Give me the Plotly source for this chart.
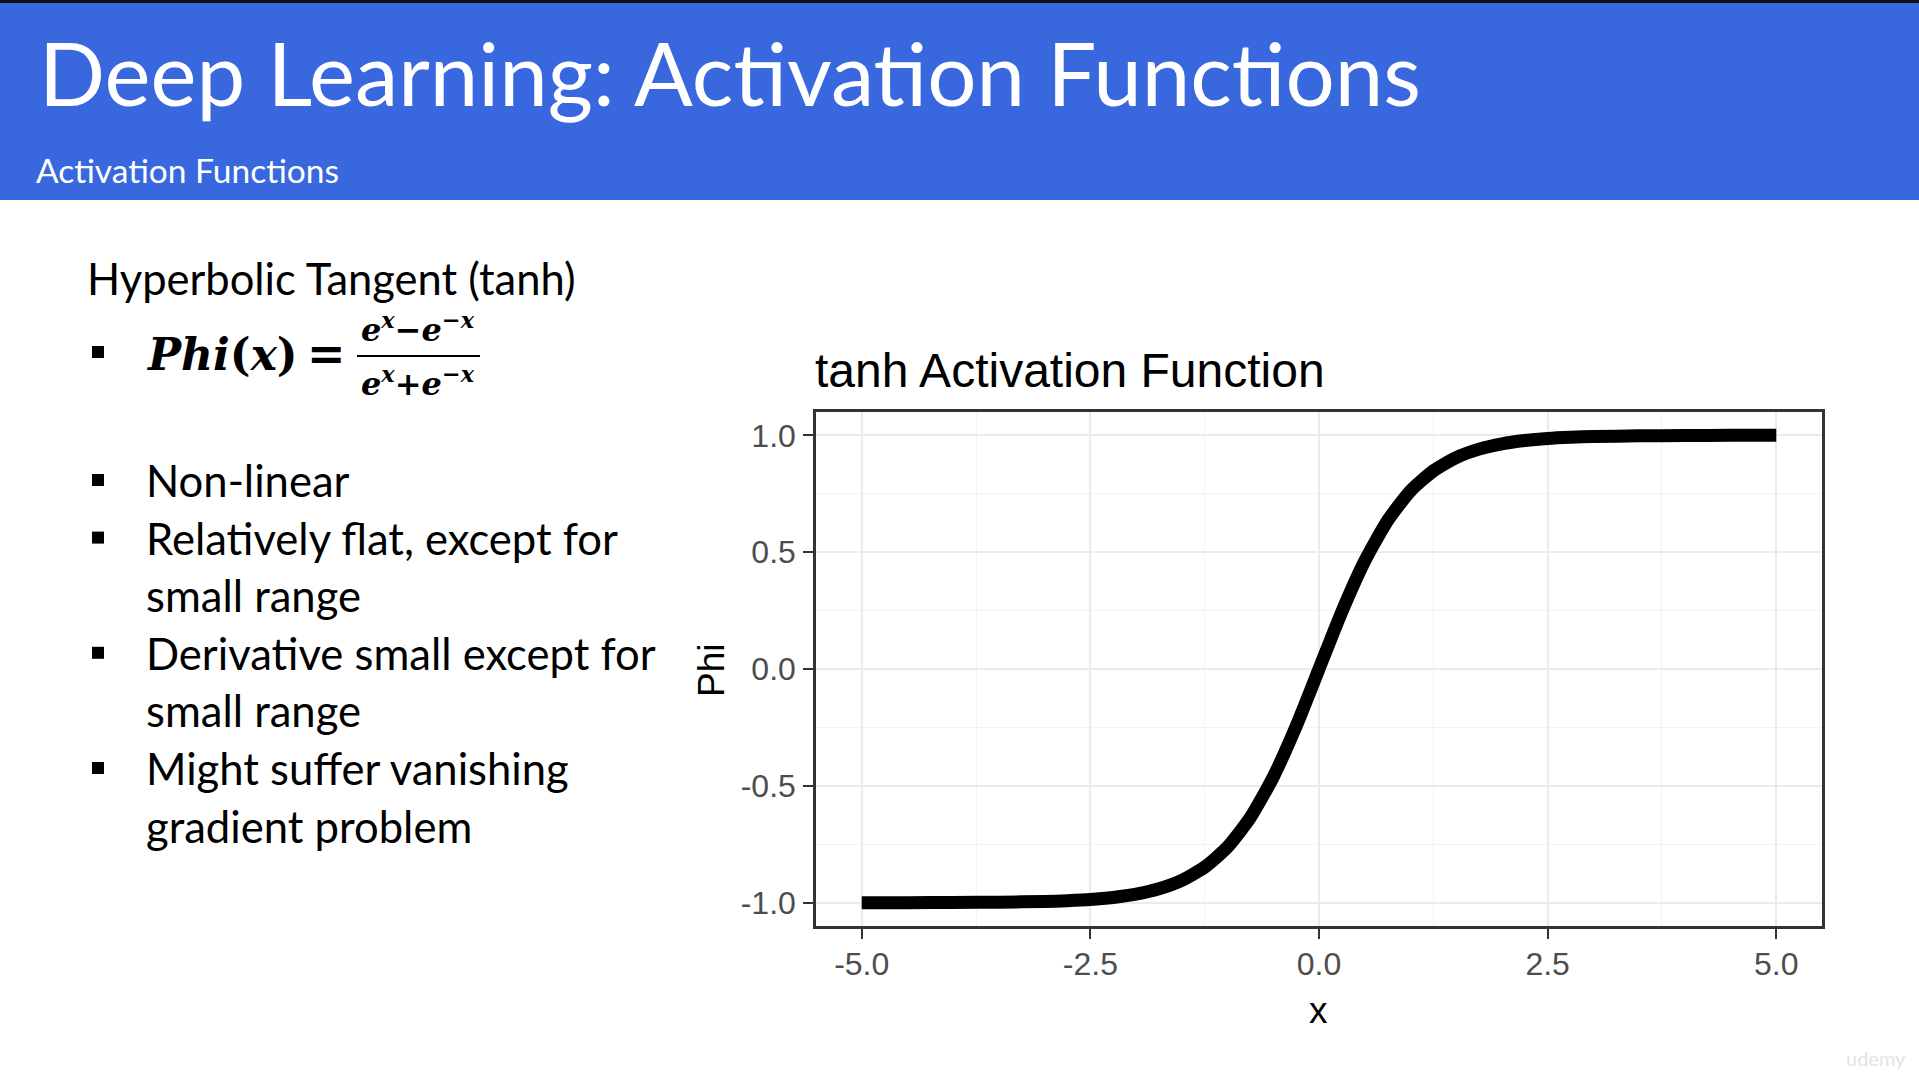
import plotly.graph_objects as go

# ---------------- data ----------------
x_vals = [-5.0, -4.5, -4.0, -3.5, -3.0, -2.75, -2.5, -2.25, -2.0, -1.75, -1.5, -1.25,
          -1.0, -0.75, -0.5, -0.25, 0.0, 0.25, 0.5, 0.75, 1.0, 1.25, 1.5, 1.75,
          2.0, 2.25, 2.5, 2.75, 3.0, 3.5, 4.0, 4.5, 5.0]
phi_vals = [-1.0, -1.0, -0.999, -0.998, -0.995, -0.992, -0.987, -0.978, -0.964, -0.941, -0.905, -0.848,
            -0.762, -0.635, -0.462, -0.245, 0.0, 0.245, 0.462, 0.635, 0.762, 0.848, 0.905, 0.941,
            0.964, 0.978, 0.987, 0.992, 0.995, 0.998, 0.999, 1.0, 1.0]

x_tickvals = [-5.0, -2.5, 0.0, 2.5, 5.0]
x_ticktext = ["-5.0", "-2.5", "0.0", "2.5", "5.0"]
y_tickvals = [-1.0, -0.5, 0.0, 0.5, 1.0]
y_ticktext = ["-1.0", "-0.5", "0.0", "0.5", "1.0"]

slide_title = "Deep Learning: Activation Functions"
slide_subtitle = "Activation Functions"
section_heading = "Hyperbolic Tangent (tanh)"
bullet_lines = [
    ("Non-linear", True),
    ("Relatively flat, except for", True),
    ("small range", False),
    ("Derivative small except for", True),
    ("small range", False),
    ("Might suffer vanishing", True),
    ("gradient problem", False),
]
chart_title = "tanh Activation Function"
x_title = "x"
y_title = "Phi"

# ---------------- layout helpers ----------------
W, H = 1919, 1079


def fx(px):
    return px / W


def fy(py):
    return 1 - py / H


SLIDE_FONT = "Lato, 'Open Sans', sans-serif"
CHART_FONT = "'Liberation Sans', Arial, sans-serif"
MATH_FONT = "'DejaVu Serif', serif"

fig = go.Figure()
fig.add_trace(go.Scatter(
    x=x_vals, y=phi_vals, mode="lines",
    line=dict(color="black", width=13, shape="spline", smoothing=0.6),
    hoverinfo="skip", showlegend=False,
))

axis_common = dict(
    showline=True, mirror=True, linecolor="#333333", linewidth=2.5,
    ticks="outside", ticklen=10, tickwidth=2, tickcolor="#333333",
    showgrid=True, gridcolor="#EBEBEB", gridwidth=2,
    zeroline=False,
    tickfont=dict(family=CHART_FONT, size=32, color="#4D4D4D"),
    fixedrange=True,
)

fig.update_layout(
    width=W, height=H, autosize=False,
    margin=dict(l=0, r=0, t=0, b=0, pad=0),
    paper_bgcolor="white", plot_bgcolor="white",
    xaxis=dict(
        domain=[fx(816), fx(1822)], range=[-5.5, 5.5],
        tickmode="array", tickvals=x_tickvals, ticktext=x_ticktext,
        minor=dict(dtick=1.25, tick0=-5, showgrid=True, gridcolor="#F2F2F2", gridwidth=1.2, ticks=""),
        ticklabelstandoff=-2,
        **axis_common,
    ),
    yaxis=dict(
        domain=[fy(926), fy(412)], range=[-1.1, 1.1],
        tickmode="array", tickvals=y_tickvals, ticktext=y_ticktext,
        minor=dict(dtick=0.25, tick0=-1, showgrid=True, gridcolor="#F2F2F2", gridwidth=1.2, ticks=""),
        ticklabelstandoff=1,
        **axis_common,
    ),
)

shapes = []
# blue header band + thin dark top strip
shapes.append(dict(type="rect", xref="paper", yref="paper", x0=0, x1=1, y0=fy(200), y1=1,
                   fillcolor="#3968DE", line=dict(width=0), layer="below"))
shapes.append(dict(type="rect", xref="paper", yref="paper", x0=0, x1=1, y0=fy(3), y1=1,
                   fillcolor="#111111", line=dict(width=0), layer="below"))

annotations = []


def text(s, x, y, size, color="black", family=SLIDE_FONT, xanchor="left", textangle=0):
    annotations.append(dict(
        text=s, x=fx(x), y=fy(y), xref="paper", yref="paper",
        xanchor=xanchor, yanchor="middle", showarrow=False, textangle=textangle,
        font=dict(family=family, size=size, color=color),
    ))


def bullet(cy):
    shapes.append(dict(type="rect", xref="paper", yref="paper",
                       x0=fx(92), x1=fx(104), y0=fy(cy + 6), y1=fy(cy - 6),
                       fillcolor="black", line=dict(width=0)))


# header texts
text(slide_title, 37, 72, 87, color="white")
text(slide_subtitle, 34, 170, 33.5, color="white")

# section heading and formula
text(section_heading, 85, 278, 43.5)
bullet(352)
text("<b><i>Phi</i>(<i>x</i>)</b>", 144, 354, 44, family=MATH_FONT)
text("<b>=</b>", 326, 354, 46, family=MATH_FONT, xanchor="center")
text("<b><i>e<sup>x</sup></i>−<i>e<sup>−x</sup></i></b>", 418, 328, 32, family=MATH_FONT, xanchor="center")
text("<b><i>e<sup>x</sup></i>+<i>e<sup>−x</sup></i></b>", 418, 382, 32, family=MATH_FONT, xanchor="center")
shapes.append(dict(type="line", xref="paper", yref="paper", x0=fx(357), x1=fx(480),
                   y0=fy(356), y1=fy(356), line=dict(color="black", width=2)))

# bullet list
line_y0 = 480
line_step = 57.6
for i, (s, has_bullet) in enumerate(bullet_lines):
    cy = line_y0 + i * line_step
    if has_bullet:
        bullet(cy)
    text(s, 144, cy, 43.6)

# chart texts
text(chart_title, 813, 370, 48, family=CHART_FONT)
text(x_title, 1318, 1010, 37, family=CHART_FONT, xanchor="center")
text(y_title, 711, 671, 37, family=CHART_FONT, xanchor="center", textangle=-90)

# faint watermark
text("udemy", 1876, 1058, 20, color="#E4E4E4", family=SLIDE_FONT, xanchor="center")

fig.update_layout(shapes=shapes, annotations=annotations)
fig.write_html("out.html")
